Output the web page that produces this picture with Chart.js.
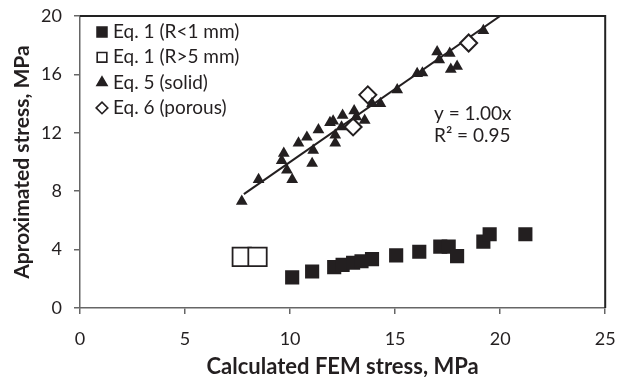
<!DOCTYPE html>
<html>
<head>
<meta charset="utf-8">
<script src="https://cdn.jsdelivr.net/npm/chart.js"></script>
<style>
  html, body { margin: 0; padding: 0; background: #fff; }
  #wrap { width: 620px; height: 377px; }
</style>
</head>
<body>
<div id="wrap"><canvas id="chart" width="620" height="377"></canvas></div>
<script>
// Eq. 1 (R<1 mm) - filled squares
const femSmall = [10.1, 11.05, 12.1, 12.5, 13.0, 13.4, 13.9, 15.05, 16.15, 17.15, 17.55, 17.95, 19.2, 19.5, 21.2];
const apxSmall = [2.1, 2.5, 2.8, 2.95, 3.1, 3.2, 3.35, 3.6, 3.85, 4.2, 4.2, 3.55, 4.55, 5.05, 5.05];
// Eq. 1 (R>5 mm) - open squares
const femLarge = [7.7, 8.45];
const apxLarge = [3.5, 3.5];
// Eq. 5 (solid) - triangles
const femSolid = [7.7, 8.5, 9.6, 9.7, 9.85, 10.1, 10.4, 10.8, 11.1, 11.05, 11.35, 11.9, 12.05, 12.15, 12.15, 12.45, 12.5,
  13.05, 13.15, 13.55, 13.9, 14.3, 15.1, 16.05, 16.3, 17.0, 17.1, 17.6, 17.65, 17.95, 19.2];
const apxSolid = [7.3, 8.8, 10.1, 10.6, 9.45, 8.8, 11.3, 11.7, 10.8, 9.9, 12.2, 12.7, 12.8, 11.85, 11.3, 12.4, 13.2,
  13.5, 13.1, 12.85, 14.0, 14.0, 14.95, 16.05, 16.1, 17.55, 17.0, 17.45, 16.35, 16.55, 19.0];
// Eq. 6 (porous) - open diamonds
const femPorous = [13.0, 13.7, 18.5];
const apxPorous = [12.4, 14.6, 18.15];
// trend line y = 1.00x
const trendX = [7.8, 20];
const trendY = [7.8, 20];

const xTicks = [0, 5, 10, 15, 20, 25];
const yTicks = [0, 4, 8, 12, 16, 20];
const seriesNames = ["Eq. 1 (R<1 mm)", "Eq. 1 (R>5 mm)", "Eq. 5 (solid)", "Eq. 6 (porous)"];

const ink = "#231f20";
const fontName = "Lato";

function pts(xs, ys) { return xs.map((x, i) => ({ x: x, y: ys[i] })); }

// legend drawn inside the plot, top-left
const insideLegend = {
  id: "insideLegend",
  afterDraw(chart) {
    const ctx = chart.ctx;
    const a = chart.chartArea;
    ctx.save();
    ctx.font = "19px " + fontName;
    ctx.textBaseline = "middle";
    const styles = ["rect", "rect", "triangle", "rectRot"];
    const fills = [ink, "#fff", ink, "#fff"];
    const radii = [7, 6.8, 5.8, 5.8];
    for (let i = 0; i < seriesNames.length; i++) {
      const y = a.top + 16 + i * 25.3;
      const x = a.left + 22;
      ctx.fillStyle = fills[i];
      ctx.strokeStyle = ink;
      ctx.lineWidth = 1.6;
      Chart.helpers.drawPoint(ctx, { pointStyle: styles[i], radius: radii[i], borderWidth: 1.6 }, x, y);
      ctx.fillStyle = ink;
      ctx.fillText(seriesNames[i], a.left + 33, y);
    }
    ctx.restore();
  }
};

// top/right frame and trend equation
const extras = {
  id: "extras",
  afterDraw(chart) {
    const ctx = chart.ctx;
    const a = chart.chartArea;
    const xs = chart.scales.x, ys = chart.scales.y;
    ctx.save();
    ctx.strokeStyle = "#222";
    ctx.lineWidth = 2;
    ctx.beginPath();
    ctx.moveTo(a.left, a.top);
    ctx.lineTo(a.right, a.top);
    ctx.lineTo(a.right, a.bottom);
    ctx.stroke();
    ctx.font = "19px " + fontName;
    ctx.fillStyle = ink;
    ctx.textBaseline = "middle";
    ctx.fillText("y = 1.00x", xs.getPixelForValue(16.85), ys.getPixelForValue(13.3));
    ctx.fillText("R\u00b2 = 0.95", xs.getPixelForValue(16.85), ys.getPixelForValue(11.8));
    ctx.restore();
  }
};

new Chart(document.getElementById("chart"), {
  type: "scatter",
  data: {
    datasets: [
      {
        type: "line", label: "trend", data: pts(trendX, trendY),
        borderColor: ink, borderWidth: 2, pointRadius: 0, fill: false, order: 5
      },
      {
        label: seriesNames[0], data: pts(femSmall, apxSmall),
        pointStyle: "rect", pointRadius: 10, backgroundColor: ink, borderColor: ink, borderWidth: 0
      },
      {
        label: seriesNames[1], data: pts(femLarge, apxLarge),
        pointStyle: "rect", pointRadius: 13, backgroundColor: "#fff", borderColor: ink, borderWidth: 1.8
      },
      {
        label: seriesNames[2], data: pts(femSolid, apxSolid),
        pointStyle: "triangle", pointRadius: 6.8, backgroundColor: ink, borderColor: ink, borderWidth: 0
      },
      {
        label: seriesNames[3], data: pts(femPorous, apxPorous),
        pointStyle: "rectRot", pointRadius: 8.5, backgroundColor: "#fff", borderColor: ink, borderWidth: 2
      }
    ]
  },
  options: {
    responsive: false,
    animation: false,
    layout: { padding: { top: 16, right: 11, left: 0, bottom: 0 } },
    plugins: { legend: { display: false }, tooltip: { enabled: false } },
    scales: {
      x: {
        type: "linear", min: 0, max: 25,
        afterBuildTicks(s) { s.ticks = xTicks.map(v => ({ value: v })); },
        afterFit(s) { s.height = 69; s.paddingLeft = 0; s.paddingRight = 0; },
        border: { display: true, color: "#666", width: 1.5 },
        grid: { drawOnChartArea: false, drawTicks: true, tickLength: 6, color: "#666", lineWidth: 1.5 },
        ticks: { font: { family: fontName, size: 18 }, color: ink, padding: 14 },
        title: {
          display: true, text: "Calculated FEM stress, MPa", color: ink,
          font: { family: fontName, size: 22, weight: "bold" }, padding: { top: 0, bottom: -3 }
        }
      },
      y: {
        type: "linear", min: 0, max: 20,
        afterBuildTicks(s) { s.ticks = yTicks.map(v => ({ value: v })); },
        afterFit(s) { s.width = 80; s.paddingTop = 0; s.paddingBottom = 0; },
        border: { display: true, color: "#666", width: 1.5 },
        grid: { drawOnChartArea: false, drawTicks: true, tickLength: 6, color: "#666", lineWidth: 1.5 },
        ticks: { font: { family: fontName, size: 18 }, color: ink, padding: 12 },
        title: {
          display: true, text: "Aproximated stress, MPa", color: ink,
          font: { family: fontName, size: 21, weight: "bold" }, padding: { top: 10, bottom: 0 }
        }
      }
    }
  },
  plugins: [insideLegend, extras]
});
</script>
</body>
</html>
